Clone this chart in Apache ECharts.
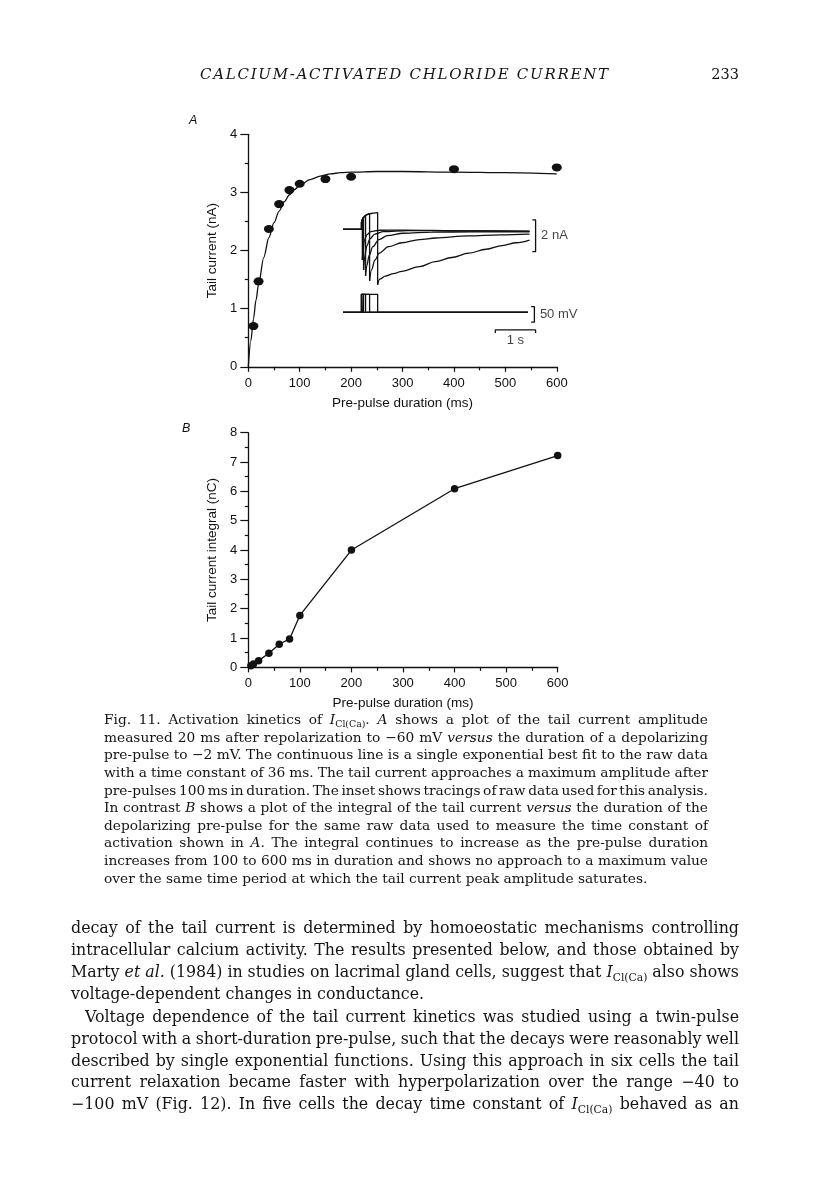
<!DOCTYPE html>
<html>
<head>
<meta charset="utf-8">
<script src="https://cdn.jsdelivr.net/npm/echarts@6/dist/echarts.min.js"></script>
<style>
html,body{margin:0;padding:0;background:#fff;}
#chart{position:absolute;left:0;top:0;width:816px;height:1203px;}
.ln{position:absolute;white-space:nowrap;font-family:'DejaVu Serif','Liberation Serif',serif;color:#141414;}
.ln span.in{display:inline-block;white-space:nowrap;}
.ln i{font-style:italic;}
.ln sub{font-size:0.68em;vertical-align:-0.35em;font-style:normal;line-height:0;}
</style>
</head>
<body>
<div id="chart"></div>
<div id="page"></div>
<script>
// ---------------- DATA ----------------
// Panel A: tail current amplitude vs pre-pulse duration
const durA = [10, 20, 40, 60, 80, 100, 150, 200, 400, 600];
const tailA = [0.70, 1.47, 2.37, 2.80, 3.04, 3.15, 3.23, 3.27, 3.40, 3.43];
// Panel A: exponential fit curve
const fitX = [0, 5, 10, 15, 20, 30, 40, 50, 60, 70, 80, 90, 100, 120, 140, 160, 180, 200, 250, 300, 400, 500, 600];
const fitY = [0, 0.45, 0.82, 1.15, 1.42, 1.88, 2.22, 2.48, 2.68, 2.84, 2.96, 3.05, 3.12, 3.22, 3.28, 3.32, 3.34, 3.35, 3.36, 3.36, 3.35, 3.34, 3.32];
// Panel B: tail current integral vs pre-pulse duration
const durB = [5, 10, 20, 40, 60, 80, 100, 200, 400, 600];
const integralB = [0.06, 0.12, 0.23, 0.48, 0.79, 0.97, 1.77, 4.00, 6.09, 7.22];

// Inset: raw traces (time in s, current in nA, voltage in mV)
const traceStart = 0, vTraceEnd = 4.59;
const pulseStart = 0.46;
const pulseEnds = [0.48, 0.51, 0.56, 0.66, 0.86];
const holdingMV = -60, pulseMV = -2;
const envT = [0.46, 0.48, 0.51, 0.56, 0.61, 0.66, 0.76, 0.86];
const envI = [0.45, 0.60, 0.75, 0.88, 0.94, 0.98, 1.02, 1.05];
const tail1T = [0.48, 0.50, 0.53, 0.59, 0.69, 0.90, 1.5, 3.0, 4.63];
const tail1I = [-1.94, -1.20, -0.70, -0.35, -0.15, -0.06, -0.05, -0.10, -0.12];
const tail2T = [0.51, 0.54, 0.59, 0.67, 0.79, 1.00, 1.6, 3.0, 4.63];
const tail2I = [-2.57, -1.70, -1.05, -0.60, -0.30, -0.15, -0.08, -0.10, -0.13];
const tail3T = [0.56, 0.59, 0.65, 0.74, 0.89, 1.10, 1.5, 2.2, 3.2, 4.63];
const tail3I = [-2.95, -2.30, -1.65, -1.10, -0.65, -0.40, -0.25, -0.18, -0.16, -0.16];
const tail4T = [0.66, 0.71, 0.79, 0.90, 1.13, 1.46, 1.9, 2.3, 3.1, 3.9, 4.63];
const tail4I = [-3.25, -2.55, -1.95, -1.50, -1.10, -0.85, -0.65, -0.55, -0.42, -0.35, -0.30];
const tail5T = [0.86, 0.91, 1.05, 1.25, 1.46, 1.9, 2.29, 2.7, 3.12, 3.55, 3.95, 4.3, 4.63];
const tail5I = [-3.50, -3.15, -2.95, -2.80, -2.65, -2.35, -2.04, -1.78, -1.51, -1.26, -1.03, -0.85, -0.68];
const tailsT = [tail1T, tail2T, tail3T, tail4T, tail5T];
const tailsI = [tail1I, tail2I, tail3I, tail4I, tail5I];
// Scale bars
const barNA = [[4.70, 0.59], [4.78, 0.59], [4.78, -1.41], [4.70, -1.41]];
const barMV = [[4.67, -42], [4.75, -42], [4.75, -92], [4.67, -92]];
const barS = [[3.78, -127], [3.78, -117], [4.78, -117], [4.78, -127]];

// Text
const I_CLCA = '<i>I</i><sub>Cl(Ca)</sub>';
const headerText = 'CALCIUM-ACTIVATED CHLORIDE CURRENT';
const pageNumber = '233';
const captionLines = [
  'Fig. 11. Activation kinetics of ' + I_CLCA + '. <i>A</i> shows a plot of the tail current amplitude',
  'measured 20 ms after repolarization to \u221260 mV <i>versus</i> the duration of a depolarizing',
  'pre-pulse to \u22122 mV. The continuous line is a single exponential best fit to the raw data',
  'with a time constant of 36 ms. The tail current approaches a maximum amplitude after',
  'pre-pulses 100 ms in duration. The inset shows tracings of raw data used for this analysis.',
  'In contrast <i>B</i> shows a plot of the integral of the tail current <i>versus</i> the duration of the',
  'depolarizing pre-pulse for the same raw data used to measure the time constant of',
  'activation shown in <i>A</i>. The integral continues to increase as the pre-pulse duration',
  'increases from 100 to 600 ms in duration and shows no approach to a maximum value',
  'over the same time period at which the tail current peak amplitude saturates.'
];
const bodyLines = [
  'decay of the tail current is determined by homoeostatic mechanisms controlling',
  'intracellular calcium activity. The results presented below, and those obtained by',
  'Marty <i>et al.</i> (1984) in studies on lacrimal gland cells, suggest that ' + I_CLCA + ' also shows',
  'voltage-dependent changes in conductance.',
  'Voltage dependence of the tail current kinetics was studied using a twin-pulse',
  'protocol with a short-duration pre-pulse, such that the decays were reasonably well',
  'described by single exponential functions. Using this approach in six cells the tail',
  'current relaxation became faster with hyperpolarization over the range \u221240 to',
  '\u2212100 mV (Fig. 12). In five cells the decay time constant of ' + I_CLCA + ' behaved as an'
];

// ---------------- CHART ----------------
const INK = '#111';
const SANS = "'Liberation Sans', Arial, sans-serif";
const zip = (a, b) => a.map((v, i) => [v, b[i]]);

function mainX(gi, name) {
  return {
    gridIndex: gi, type: 'value', min: 0, max: 600, interval: 100,
    axisLine: { show: true, onZero: false, lineStyle: { color: INK, width: 1.3 } },
    axisTick: { show: true, length: 5, lineStyle: { color: INK, width: 1.2 } },
    minorTick: { show: true, splitNumber: 2, length: 3.5, lineStyle: { color: INK, width: 1.2 } },
    splitLine: { show: false }, minorSplitLine: { show: false },
    axisLabel: { margin: 10, color: INK, fontSize: 13, fontFamily: SANS },
    name: name, nameLocation: 'middle', nameGap: 29,
    nameTextStyle: { color: INK, fontSize: 13.5, fontFamily: SANS }
  };
}
function mainY(gi, max, name) {
  return {
    gridIndex: gi, type: 'value', min: 0, max: max, interval: 1,
    axisLine: { show: true, onZero: false, lineStyle: { color: INK, width: 1.3 } },
    axisTick: { show: true, length: 8, lineStyle: { color: INK, width: 1.2 } },
    minorTick: { show: true, splitNumber: 2, length: 3.5, lineStyle: { color: INK, width: 1.2 } },
    splitLine: { show: false }, minorSplitLine: { show: false },
    axisLabel: { margin: 11, color: INK, fontSize: 13, fontFamily: SANS },
    name: name, nameLocation: 'middle', nameGap: 29,
    nameTextStyle: { color: INK, fontSize: 13.5, fontFamily: SANS }
  };
}
function hiddenAxis(gi, min, max) {
  return { gridIndex: gi, type: 'value', min: min, max: max, show: false, splitLine: { show: false } };
}

const series = [];
// Panel A
series.push({ type: 'line', xAxisIndex: 0, yAxisIndex: 0, data: zip(fitX, fitY), smooth: 0.3,
  smoothMonotone: 'x', showSymbol: false, symbol: 'none', lineStyle: { color: INK, width: 1.3 }, z: 3 });
series.push({ type: 'scatter', xAxisIndex: 0, yAxisIndex: 0, data: zip(durA, tailA), symbol: 'circle',
  symbolSize: [10, 8], itemStyle: { color: INK, opacity: 1 }, z: 4 });
// Panel B
series.push({ type: 'line', xAxisIndex: 1, yAxisIndex: 1, data: zip(durB, integralB), symbol: 'circle',
  symbolSize: 7.5, showSymbol: true, itemStyle: { color: INK, opacity: 1 }, lineStyle: { color: INK, width: 1.3 } });

// Inset current traces
const thin = { color: INK, width: 1.3 };
pulseEnds.forEach((te, k) => {
  const path = [[traceStart, 0], [pulseStart, 0]];
  envT.forEach((t, j) => { if (t <= te + 1e-9) path.push([t, envI[j]]); });
  path.push([te, tailsI[k][0]]);
  series.push({ type: 'line', xAxisIndex: 2, yAxisIndex: 2, data: path, symbol: 'none', lineStyle: thin });
  series.push({ type: 'line', xAxisIndex: 2, yAxisIndex: 2, data: zip(tailsT[k], tailsI[k]), symbol: 'none',
    smooth: 0.35, smoothMonotone: 'x', lineStyle: thin });
  series.push({ type: 'line', xAxisIndex: 3, yAxisIndex: 3, symbol: 'none', lineStyle: thin,
    data: [[traceStart, holdingMV], [pulseStart, holdingMV], [pulseStart, pulseMV], [te, pulseMV], [te, holdingMV], [vTraceEnd, holdingMV]] });
});
// Scale bars
series.push({ type: 'line', xAxisIndex: 2, yAxisIndex: 2, data: barNA, symbol: 'none', lineStyle: thin });
series.push({ type: 'line', xAxisIndex: 3, yAxisIndex: 3, data: barMV, symbol: 'none', lineStyle: thin });
series.push({ type: 'line', xAxisIndex: 3, yAxisIndex: 3, data: barS, symbol: 'none', lineStyle: thin });
// Scale bar labels
const lblStyle = { color: INK, fontSize: 13, fontFamily: SANS };
series.push({ type: 'scatter', xAxisIndex: 2, yAxisIndex: 2, symbolSize: 1, itemStyle: { color: 'rgba(0,0,0,0)' },
  data: [{ value: [barNA[1][0], (barNA[1][1] + barNA[2][1]) / 2], label: { show: true, position: 'right', distance: 5, formatter: '2 nA', ...lblStyle } }] });
series.push({ type: 'scatter', xAxisIndex: 3, yAxisIndex: 3, symbolSize: 1, itemStyle: { color: 'rgba(0,0,0,0)' },
  data: [
    { value: [barMV[1][0], (barMV[1][1] + barMV[2][1]) / 2], label: { show: true, position: 'right', distance: 5, formatter: '50 mV', ...lblStyle } },
    { value: [(barS[1][0] + barS[2][0]) / 2, barS[1][1]], label: { show: true, position: 'bottom', distance: 3, formatter: '1 s', ...lblStyle } }
  ] });

const option = {
  backgroundColor: '#fff',
  animation: false,
  grid: [
    { left: 248.3, top: 134.3, width: 308.5, height: 232.5, containLabel: false, outerBoundsMode: 'none' },
    { left: 248.3, top: 432.7, width: 309.4, height: 234.7, containLabel: false, outerBoundsMode: 'none' },
    { left: 343, top: 205.5, width: 193.4, height: 87.2, containLabel: false, outerBoundsMode: 'none' },
    { left: 343, top: 290.6, width: 193.4, height: 43.4, containLabel: false, outerBoundsMode: 'none' }
  ],
  xAxis: [mainX(0, 'Pre-pulse duration (ms)'), mainX(1, 'Pre-pulse duration (ms)'), hiddenAxis(2, 0, 4.8), hiddenAxis(3, 0, 4.8)],
  yAxis: [mainY(0, 4, 'Tail current (nA)'), mainY(1, 8, 'Tail current integral (nC)'), hiddenAxis(2, -4, 1.5), hiddenAxis(3, -130, 10)],
  graphic: [
    { type: 'text', left: 189, top: 114, style: { text: 'A', font: "italic 12.5px 'Liberation Sans', Arial", fill: INK } },
    { type: 'text', left: 182, top: 422, style: { text: 'B', font: "italic 12.5px 'Liberation Sans', Arial", fill: INK } }
  ],
  series: series
};
const chart = echarts.init(document.getElementById('chart'), null, { renderer: 'canvas' });
chart.setOption(option);

// ---------------- TEXT LAYOUT ----------------
const page = document.getElementById('page');
function makeLine(html, left, centerY, lh, width) {
  const d = document.createElement('div');
  d.className = 'ln';
  d.style.left = left + 'px';
  d.style.top = (centerY - lh / 2) + 'px';
  d.style.lineHeight = lh + 'px';
  d.style.height = lh + 'px';
  const s = document.createElement('span');
  s.className = 'in';
  s.innerHTML = html;
  d.appendChild(s);
  page.appendChild(d);
  return { d, s, width };
}
function layoutBlock(lines, left, width, y0, spacing, opts) {
  const items = lines.map((html, i) => {
    const ind = (opts.indent && opts.indent[i]) || 0;
    const cy = y0 + i * spacing + ((opts.gapAfter && i > opts.gapAfter.idx) ? opts.gapAfter.px : 0);
    const it = makeLine(html, left + ind, cy, spacing, width - ind);
    it.justify = !(opts.ragged || []).includes(i);
    return it;
  });
  const base = 20;
  items.forEach(it => { it.d.style.fontSize = base + 'px'; });
  const ratios = items.filter(it => it.justify).map(it => it.s.getBoundingClientRect().width / it.width);
  const mean = ratios.reduce((a, b) => a + b, 0) / ratios.length;
  const fs = base * opts.fill / mean;
  items.forEach(it => {
    it.d.style.fontSize = fs + 'px';
    if (it.justify) {
      const w = it.s.getBoundingClientRect().width;
      const n = (it.s.textContent.match(/ /g) || []).length;
      if (n > 0) it.s.style.wordSpacing = ((it.width - w) / n) + 'px';
    }
  });
}
function layoutAll() {
  page.innerHTML = '';
  // header
  const h = makeLine('<i>' + headerText + '</i>', 200, 73.5, 20, 408);
  h.d.style.fontSize = '15px';
  const hw = h.s.getBoundingClientRect().width;
  const ls = (408 - hw) / (headerText.length - 1);
  h.s.style.letterSpacing = ls + 'px';
  const p = makeLine(pageNumber, 0, 73.5, 20, 40);
  p.d.style.fontSize = '14.5px';
  const pw = p.s.getBoundingClientRect().width;
  p.d.style.left = (739 - pw) + 'px';
  // caption
  layoutBlock(captionLines, 104, 604, 720, 17.6, { ragged: [9], fill: 0.985 });
  // body
  layoutBlock(bodyLines, 71, 668, 928.3, 21.7, { ragged: [3], indent: { 4: 14 }, gapAfter: { idx: 3, px: 2 }, fill: 0.975 });
}
layoutAll();
if (document.fonts && document.fonts.ready) document.fonts.ready.then(layoutAll);
</script>
</body>
</html>
